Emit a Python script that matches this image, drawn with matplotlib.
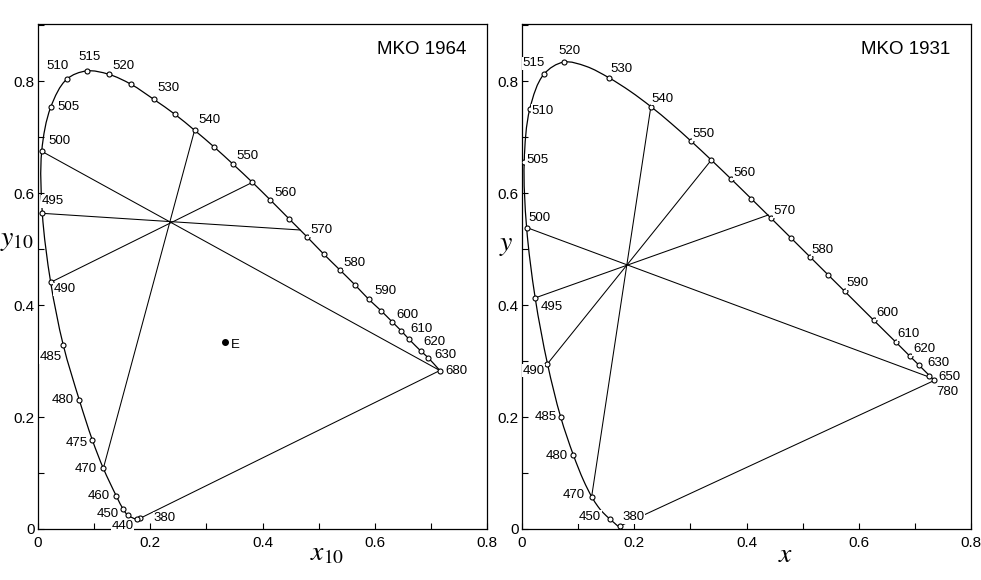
import numpy as np
import matplotlib
matplotlib.use('Agg')
import matplotlib.pyplot as plt
from matplotlib.path import Path
from matplotlib.patches import PathPatch
from matplotlib.ticker import MultipleLocator, FixedLocator, FixedFormatter

plt.rcParams['mathtext.fontset'] = 'stix'
plt.rcParams['font.family'] = ['Liberation Sans', 'DejaVu Sans']

# ---------------- MKO 1964 (x10, y10) ----------------
wl_1964 = [380, 400, 440, 450, 460, 470, 475, 480, 485, 490, 495, 500, 505, 510,
           515, 520, 525, 530, 535, 540, 545, 550, 555, 560, 565, 570, 575, 580,
           585, 590, 595, 600, 605, 610, 620, 630, 680]
x_1964 = [0.1817, 0.1768, 0.1597, 0.1520, 0.1395, 0.1164, 0.0968, 0.0736, 0.0450,
          0.0226, 0.0077, 0.0066, 0.0226, 0.0510, 0.0867, 0.1260, 0.1660, 0.2066,
          0.2440, 0.2790, 0.3140, 0.3480, 0.3820, 0.4140, 0.4476, 0.4796, 0.5090,
          0.5380, 0.5650, 0.5895, 0.6110, 0.6310, 0.6470, 0.6610, 0.6830, 0.6950,
          0.7160]
y_1964 = [0.0190, 0.0173, 0.0250, 0.0350, 0.0590, 0.1083, 0.1590, 0.2304, 0.3286,
          0.4405, 0.5637, 0.6745, 0.7530, 0.8030, 0.8180, 0.8120, 0.7940, 0.7670,
          0.7405, 0.7120, 0.6820, 0.6510, 0.6190, 0.5875, 0.5536, 0.5214, 0.4910,
          0.4625, 0.4357, 0.4100, 0.3900, 0.3700, 0.3540, 0.3390, 0.3170, 0.3060,
          0.2830]
circled_1964 = wl_1964
labelled_1964 = [380, 440, 450, 460, 470, 475, 480, 485, 490, 495, 500, 505, 510,
                 515, 520, 530, 540, 550, 560, 570, 580, 590, 600, 610, 620, 630, 680]
# complementary lines (x1, y1) -> (x2, y2)
lines_1964_x1 = [0.0066, 0.0077, 0.0226, 0.2790, 0.1817]
lines_1964_y1 = [0.6745, 0.5637, 0.4405, 0.7120, 0.0190]
lines_1964_x2 = [0.7160, 0.4666, 0.3820, 0.1164, 0.7160]
lines_1964_y2 = [0.2830, 0.5340, 0.6190, 0.1083, 0.2830]
point_E = (0.3336, 0.3334)

# ---------------- MKO 1931 (x, y) ----------------
wl_1931 = [380, 400, 420, 430, 440, 450, 460, 465, 470, 475, 480, 485, 490, 495,
           500, 505, 510, 515, 520, 525, 530, 535, 540, 545, 550, 555, 560, 565,
           570, 575, 580, 585, 590, 595, 600, 605, 610, 615, 620, 625, 630, 640,
           650, 660, 780]
x_1931 = [0.1741, 0.1733, 0.1714, 0.1689, 0.1644, 0.1566, 0.1440, 0.1355, 0.1241,
          0.1096, 0.0913, 0.0687, 0.0454, 0.0235, 0.0082, 0.0039, 0.0139, 0.0389,
          0.0743, 0.1142, 0.1547, 0.1929, 0.2296, 0.2658, 0.3016, 0.3373, 0.3731,
          0.4087, 0.4441, 0.4788, 0.5125, 0.5448, 0.5752, 0.6029, 0.6270, 0.6482,
          0.6658, 0.6801, 0.6915, 0.7006, 0.7079, 0.7190, 0.7260, 0.7300, 0.7347]
y_1931 = [0.0050, 0.0048, 0.0051, 0.0069, 0.0109, 0.0177, 0.0297, 0.0399, 0.0578,
          0.0868, 0.1327, 0.2007, 0.2950, 0.4127, 0.5384, 0.6548, 0.7502, 0.8120,
          0.8338, 0.8262, 0.8059, 0.7816, 0.7543, 0.7243, 0.6923, 0.6589, 0.6245,
          0.5896, 0.5547, 0.5202, 0.4866, 0.4544, 0.4242, 0.3965, 0.3725, 0.3514,
          0.3340, 0.3197, 0.3083, 0.2993, 0.2920, 0.2809, 0.2740, 0.2700, 0.2653]
circled_1931 = [380, 450, 470, 480, 485, 490, 495, 500, 505, 510, 515, 520, 530,
                540, 550, 555, 560, 565, 570, 575, 580, 585, 590, 600, 610, 620,
                630, 650, 780]
labelled_1931 = [380, 450, 470, 480, 485, 490, 495, 500, 505, 510, 515, 520, 530,
                 540, 550, 560, 570, 580, 590, 600, 610, 620, 630, 650, 780]
lines_1931_x1 = [0.0082, 0.0235, 0.0454, 0.2296, 0.1741]
lines_1931_y1 = [0.5384, 0.4127, 0.2950, 0.7543, 0.0050]
lines_1931_x2 = [0.7266, 0.4387, 0.3373, 0.1241, 0.7347]
lines_1931_y2 = [0.2709, 0.5607, 0.6589, 0.0578, 0.2653]

tick_values = [0, 0.2, 0.4, 0.6, 0.8]
tick_labels = ['0', '0.2', '0.4', '0.6', '0.8']

# ---------------- label offsets (pixels, style only) ----------------
off_1964 = {380: (25, 0), 440: (-5, -11), 450: (-16, -5), 460: (-18, 0),
            470: (-18, -1), 475: (-16, -3), 480: (-17, 0), 485: (-13, -12),
            490: (14, -7), 495: (10, 12), 500: (18, 10), 505: (18, 0),
            510: (-9, 13), 515: (3, 14), 520: (15, 8), 530: (15, 11),
            540: (15, 10), 550: (14, 8), 560: (15, 7), 570: (14, 7),
            580: (15, 7), 590: (17, 8), 600: (15, 7), 610: (13, 10),
            620: (13, 9), 630: (17, 3), 680: (17, 0)}
off_1931 = {380: (14, 9), 450: (-20, 2), 470: (-18, 2), 480: (-16, -1),
            485: (-15, 0), 490: (-14, -7), 495: (17, -9), 500: (13, 10),
            505: (13, 2), 510: (13, -2), 515: (-10, 11), 520: (6, 11),
            530: (13, 9), 540: (12, 8), 550: (12, 7), 560: (13, 6),
            570: (13, 7), 580: (13, 7), 590: (13, 8), 600: (14, 7),
            610: (13, 8), 620: (14, 7), 630: (19, 2), 650: (20, -1),
            780: (13, -12)}

LABEL_FONT = ['Liberation Sans Narrow', 'Liberation Sans', 'DejaVu Sans']


def smooth_path(xs, ys, alpha=0.5):
    """Centripetal Catmull-Rom curve through the given points, as Bezier path."""
    P = np.column_stack([xs, ys]).astype(float)
    n = len(P)
    verts = [P[0]]
    codes = [Path.MOVETO]
    for i in range(n - 1):
        p1, p2 = P[i], P[i + 1]
        d2 = np.linalg.norm(p2 - p1) ** alpha
        if i == 0:
            b1 = p1 + (p2 - p1) / 3.0
        else:
            p0 = P[i - 1]
            d1 = np.linalg.norm(p1 - p0) ** alpha
            b1 = (d1 ** 2 * p2 - d2 ** 2 * p0 +
                  (2 * d1 ** 2 + 3 * d1 * d2 + d2 ** 2) * p1) / (3 * d1 * (d1 + d2))
        if i + 2 >= n:
            b2 = p2 - (p2 - p1) / 3.0
        else:
            p3 = P[i + 2]
            d3 = np.linalg.norm(p3 - p2) ** alpha
            b2 = (d3 ** 2 * p1 - d2 ** 2 * p3 +
                  (2 * d3 ** 2 + 3 * d3 * d2 + d2 ** 2) * p2) / (3 * d3 * (d3 + d2))
        verts += [b1, b2, p2]
        codes += [Path.CURVE4] * 3
    return Path(verts, codes)


def draw_panel(ax, wl, xs, ys, circled, labelled, offsets,
               lx1, ly1, lx2, ly2, title, xlab, ylab, xlab_pos, ylab_pos):
    assert len(wl) == len(xs) == len(ys)
    ax.set_xlim(0, 0.8)
    ax.set_ylim(0, 0.9018)

    # spectral locus
    ax.add_patch(PathPatch(smooth_path(xs, ys), fill=False, ec='black',
                           lw=0.9, zorder=2))
    # complementary / purple lines
    for a, b, c, d in zip(lx1, ly1, lx2, ly2):
        ax.plot([a, c], [b, d], color='black', lw=0.75, zorder=2)

    idx = {w: i for i, w in enumerate(wl)}
    cx = [xs[idx[w]] for w in circled]
    cy = [ys[idx[w]] for w in circled]
    ax.plot(cx, cy, linestyle='none', marker='o', ms=3.6, mfc='white',
            mec='black', mew=0.8, zorder=4)

    for w in labelled:
        i = idx[w]
        dx, dy = offsets[w]
        ax.annotate(str(w), (xs[i], ys[i]), xytext=(dx, dy),
                    textcoords='offset pixels', ha='center', va='center',
                    fontsize=9.5, family=LABEL_FONT, zorder=5,
                    bbox=dict(boxstyle='square,pad=0.05', fc='white', ec='none'))

    ax.text(0.855, 0.950, title, transform=ax.transAxes, ha='center',
            va='center', fontsize=13.5, family=['Liberation Sans'])
    ax.text(xlab_pos[0], xlab_pos[1], xlab, transform=ax.transAxes,
            ha='center', va='center', fontsize=20)
    ax.text(ylab_pos[0], ylab_pos[1], ylab, transform=ax.transAxes,
            ha='center', va='center', fontsize=20)

    for sp in ax.spines.values():
        sp.set_linewidth(0.9)
    ax.xaxis.set_major_locator(FixedLocator(tick_values))
    ax.xaxis.set_major_formatter(FixedFormatter(tick_labels))
    ax.yaxis.set_major_locator(FixedLocator(tick_values))
    ax.yaxis.set_major_formatter(FixedFormatter(tick_labels))
    ax.xaxis.set_minor_locator(MultipleLocator(0.1))
    ax.yaxis.set_minor_locator(MultipleLocator(0.1))
    ax.tick_params(which='both', direction='in', length=4, width=0.8,
                   top=False, right=False)
    ax.tick_params(axis='x', which='major', pad=5, labelsize=11)
    ax.tick_params(axis='y', which='major', pad=2.5, labelsize=11)


fig = plt.figure(figsize=(9.81, 5.80), dpi=100)
ax1 = fig.add_axes([38 / 981, 51 / 580, 449 / 981, 505 / 580])
ax2 = fig.add_axes([522 / 981, 51 / 580, 449 / 981, 505 / 580])

draw_panel(ax1, wl_1964, x_1964, y_1964, circled_1964, labelled_1964, off_1964,
           lines_1964_x1, lines_1964_y1, lines_1964_x2, lines_1964_y2,
           'MKO 1964', r'$x_{10}$', r'$y_{10}$', (0.643, -0.048), (-0.047, 0.572))
draw_panel(ax2, wl_1931, x_1931, y_1931, circled_1931, labelled_1931, off_1931,
           lines_1931_x1, lines_1931_y1, lines_1931_x2, lines_1931_y2,
           'MKO 1931', r'$x$', r'$y$', (0.588, -0.052), (-0.034, 0.562))

# equal-energy point E on the 1964 panel
ax1.plot([point_E[0]], [point_E[1]], marker='o', ms=4, color='black',
         linestyle='none', zorder=4)
ax1.annotate('E', point_E, xytext=(10, -3), textcoords='offset pixels',
             ha='center', va='center', fontsize=9.5, family=LABEL_FONT)

fig.savefig('out.png', dpi=100)
